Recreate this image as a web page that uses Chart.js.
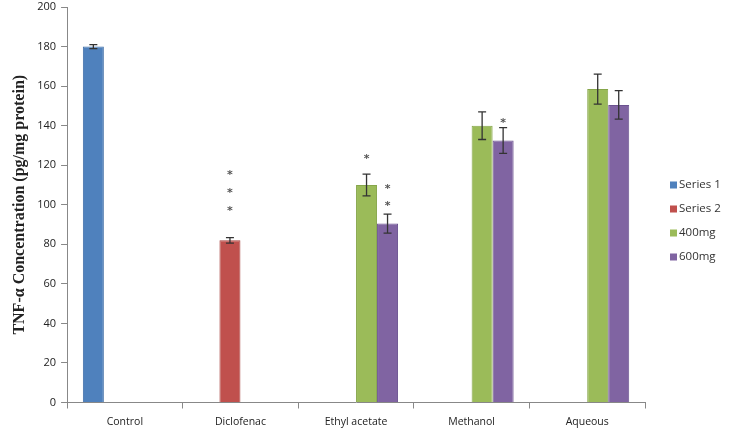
<!DOCTYPE html>
<html>
<head>
<meta charset="utf-8">
<script src="https://cdn.jsdelivr.net/npm/chart.js@4/dist/chart.umd.min.js"></script>
<style>
  html, body { margin: 0; padding: 0; background: #fff; }
  #wrap { width: 729px; height: 435px; }
</style>
</head>
<body>
<div id="wrap"><canvas id="barChart"></canvas></div>
<script>
const ctx_bar = document.querySelector('#barChart').getContext('2d');

const categories = ['Control', 'Diclofenac', 'Ethyl acetate', 'Methanol', 'Aqueous'];
const series_names = ['Series 1', 'Series 2', '400mg', '600mg'];

// mean values (pg/mg protein)
const series1 = [180, null, null, null, null];
const series2 = [null, 82, null, null, null];
const mg400 = [null, null, 110, 140, 158.5];
const mg600 = [null, null, 90.5, 132.5, 150.5];

// error bar half-widths
const err1 = [1, null, null, null, null];
const err2 = [null, 1.4, null, null, null];
const err400 = [null, null, 5.5, 7, 7.6];
const err600 = [null, null, 4.8, 6.5, 7.2];

// asterisks: [dataset, category, value]
const asterisks = [
    [1, 1, 116], [1, 1, 107], [1, 1, 98],
    [2, 2, 124],
    [3, 2, 109], [3, 2, 100.5],
    [3, 3, 142.5],
];

const y_ticks = [0, 20, 40, 60, 80, 100, 120, 140, 160, 180, 200];

const color_lst = ['#4F81BD', '#C0504D', '#9BBB59', '#8064A2'];
const border_lst = ['#3E6DA6', '#A6403D', '#86A64A', '#6B5290'];

const values_lst = [series1, series2, mg400, mg600];
const err_lst = [err1, err2, err400, err600];

let lst_bar = [];
for (let i in series_names) {
    lst_bar.push({
        label: series_names[i],
        data: values_lst[i],
        backgroundColor: color_lst[i],
        borderColor: border_lst[i],
        borderWidth: 1,
        categoryPercentage: 0.727,
        barPercentage: 1.0,
    });
}

// error bars + asterisks + legend on the right
const extrasPlugin = {
    id: 'extras',
    afterDatasetsDraw(chart) {
        const c = chart.ctx;
        const y = chart.scales.y;
        c.save();
        c.strokeStyle = '#333';
        c.lineWidth = 1.3;
        err_lst.forEach((errs, d) => {
            const meta = chart.getDatasetMeta(d);
            errs.forEach((e, i) => {
                if (e === null) return;
                const v = values_lst[d][i];
                const x = meta.data[i].x;
                const yt = y.getPixelForValue(v + e);
                const yb = y.getPixelForValue(v - e);
                c.beginPath();
                c.moveTo(x, yt); c.lineTo(x, yb);
                c.moveTo(x - 4, yt); c.lineTo(x + 4, yt);
                c.moveTo(x - 4, yb); c.lineTo(x + 4, yb);
                c.stroke();
            });
        });
        c.fillStyle = '#555';
        c.font = 'bold 11px "DejaVu Sans"';
        c.textAlign = 'center';
        c.textBaseline = 'middle';
        asterisks.forEach(([d, i, v]) => {
            const x = chart.getDatasetMeta(d).data[i].x;
            c.fillText('*', x, y.getPixelForValue(v) + 2);
        });

        // legend
        const lx = chart.chartArea.right + 25;
        const ly = 185;
        c.font = '11.5px "Open Sans"';
        c.textAlign = 'left';
        series_names.forEach((name, i) => {
            const yy = ly + i * 24;
            c.fillStyle = color_lst[i];
            c.fillRect(lx, yy - 3.5, 7, 7);
            c.fillStyle = '#333';
            c.fillText(name, lx + 9, yy);
        });
        c.restore();
    }
};

const config_bar = {
    type: 'bar',
    data: { labels: categories, datasets: lst_bar },
    options: {
        responsive: true,
        maintainAspectRatio: false,
        animation: false,
        layout: { padding: { top: 7, right: 84, left: 10, bottom: 0 } },
        plugins: {
            legend: { display: false },
            tooltip: { enabled: false },
        },
        scales: {
            x: {
                grid: { display: true, drawOnChartArea: false, tickLength: 6, color: '#888', offset: true },
                border: { color: '#888' },
                ticks: { color: '#222', font: { family: 'Open Sans', size: 10.5, lineHeight: 1.0 }, padding: 8 },
            },
            y: {
                min: 0,
                max: 200,
                afterBuildTicks: (axis) => { axis.ticks = y_ticks.map(v => ({ value: v })); },
                afterFit: (axis) => { axis.paddingTop = 0; },
                grid: { display: true, drawOnChartArea: false, tickLength: 6, color: '#888' },
                border: { color: '#888' },
                ticks: { color: '#222', font: { family: 'Open Sans', size: 11 }, padding: 5 },
                title: {
                    display: true,
                    text: 'TNF-α Concentration (pg/mg protein)',
                    color: '#222',
                    font: { family: 'Liberation Serif', size: 16, weight: 'bold' },
                    padding: { top: 0, bottom: 3 },
                },
            },
        },
    },
    plugins: [extrasPlugin],
};

new Chart(ctx_bar, config_bar);
</script>
</body>
</html>
